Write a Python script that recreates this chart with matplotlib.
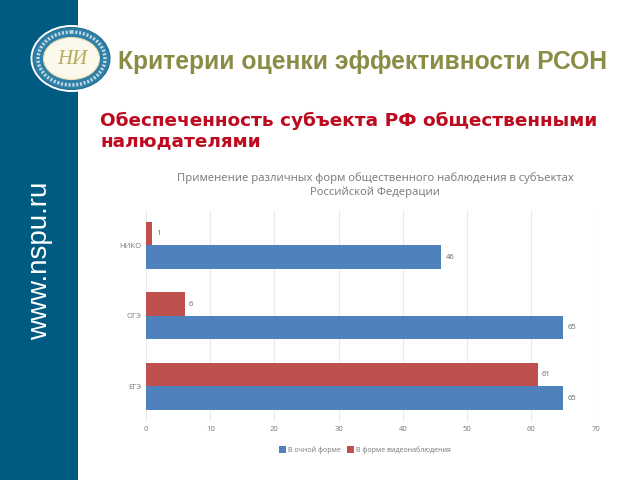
import numpy as np
import matplotlib
matplotlib.use('Agg')
import matplotlib.pyplot as plt
from matplotlib.patches import Ellipse, Rectangle

# Chart data
categories = ['ЕГЭ', 'ОГЭ', 'НИКО']
in_person = [65, 65, 46]
video = [61, 6, 1]
xticks = [0, 10, 20, 30, 40, 50, 60, 70]

# Slide text
slide_title = 'Критерии оценки эффективности РСОН'
slide_subtitle = 'Обеспеченность субъекта РФ общественными\nналюдателями'
chart_title = 'Применение различных форм общественного наблюдения в субъектах\nРоссийской Федерации'
site = 'www.nspu.ru'

W, H = 640, 480
fig = plt.figure(figsize=(6.4, 4.8), dpi=100, facecolor='white')

# Background layer in pixel coordinates
bg = fig.add_axes([0, 0, 1, 1])
bg.set_xlim(0, W)
bg.set_ylim(H, 0)
bg.axis('off')

bg.add_patch(Rectangle((0, 0), 78, H, color='#005B82', lw=0))
bg.text(40, 261, site, color='white', fontsize=20, family='Liberation Sans',
        rotation=90, ha='center', va='center')

# Round emblem
bg.add_patch(Ellipse((71.5, 58.5), 82, 67, fc='white', ec='none'))
bg.add_patch(Ellipse((71.5, 58.5), 77, 62, fc='#2F7FA6', ec='#1F6F96', lw=0.8))
bg.add_patch(Ellipse((71.5, 58.5), 67, 53, fc='none', ec='#BFD9E6', lw=2.5, ls=(0, (0.6, 0.5))))
bg.add_patch(Ellipse((71.5, 58.5), 56, 42, fc='#FBF9EC', ec='#E6E0B0', lw=0.8))
bg.text(72, 59, 'НИ', color='#B5AB62', fontsize=15, style='italic',
        family='Liberation Serif', ha='center', va='center')

bg.text(118, 62, slide_title, color='#8A8C45', fontsize=17.75, weight='bold',
        family='Liberation Sans', ha='left', va='center')
bg.text(100, 131, slide_subtitle, color='#BE0A1E', fontsize=13.3, weight='bold',
        family='DejaVu Sans', ha='left', va='center', linespacing=1.12)
bg.text(375, 185.5, chart_title, color='#777777', fontsize=8.1,
        family='Open Sans', ha='center', va='center', linespacing=1.3)

# Bar chart
ax = fig.add_axes([146 / W, 1 - 421.5 / H, (595.5 - 146) / W, 211.5 / H])
y = np.arange(len(categories))
h = 1 / 3
b1 = ax.barh(y - h / 2, in_person, h, color='#4F81BD', label='В очной форме')
b2 = ax.barh(y + h / 2, video, h, color='#C0504D', label='В форме видеонаблюдения')
for bars in (b1, b2):
    ax.bar_label(bars, padding=3, fontsize=5.5, color='#666666', family='Open Sans')

ax.set_xlim(0, 70)
ax.set_ylim(-0.5, 2.5)
ax.set_xticks(xticks)
ax.set_yticks(y, categories)
ax.grid(axis='x', color='#EAEAEA', lw=0.8)
ax.set_axisbelow(True)
for s in ax.spines.values():
    s.set_visible(False)
ax.tick_params(length=0, labelsize=5.5, labelcolor='#777777', pad=3.5)
for t in ax.get_xticklabels() + ax.get_yticklabels():
    t.set_family('Open Sans')

ax.legend(loc='center', bbox_to_anchor=(0.487, -0.135), ncol=2, frameon=False,
          labelcolor='#777777', handlelength=1.0, handleheight=1.1,
          handletextpad=0.35, columnspacing=0.9, prop={'family': 'Open Sans', 'size': 5})

fig.savefig('out.png', dpi=100)
